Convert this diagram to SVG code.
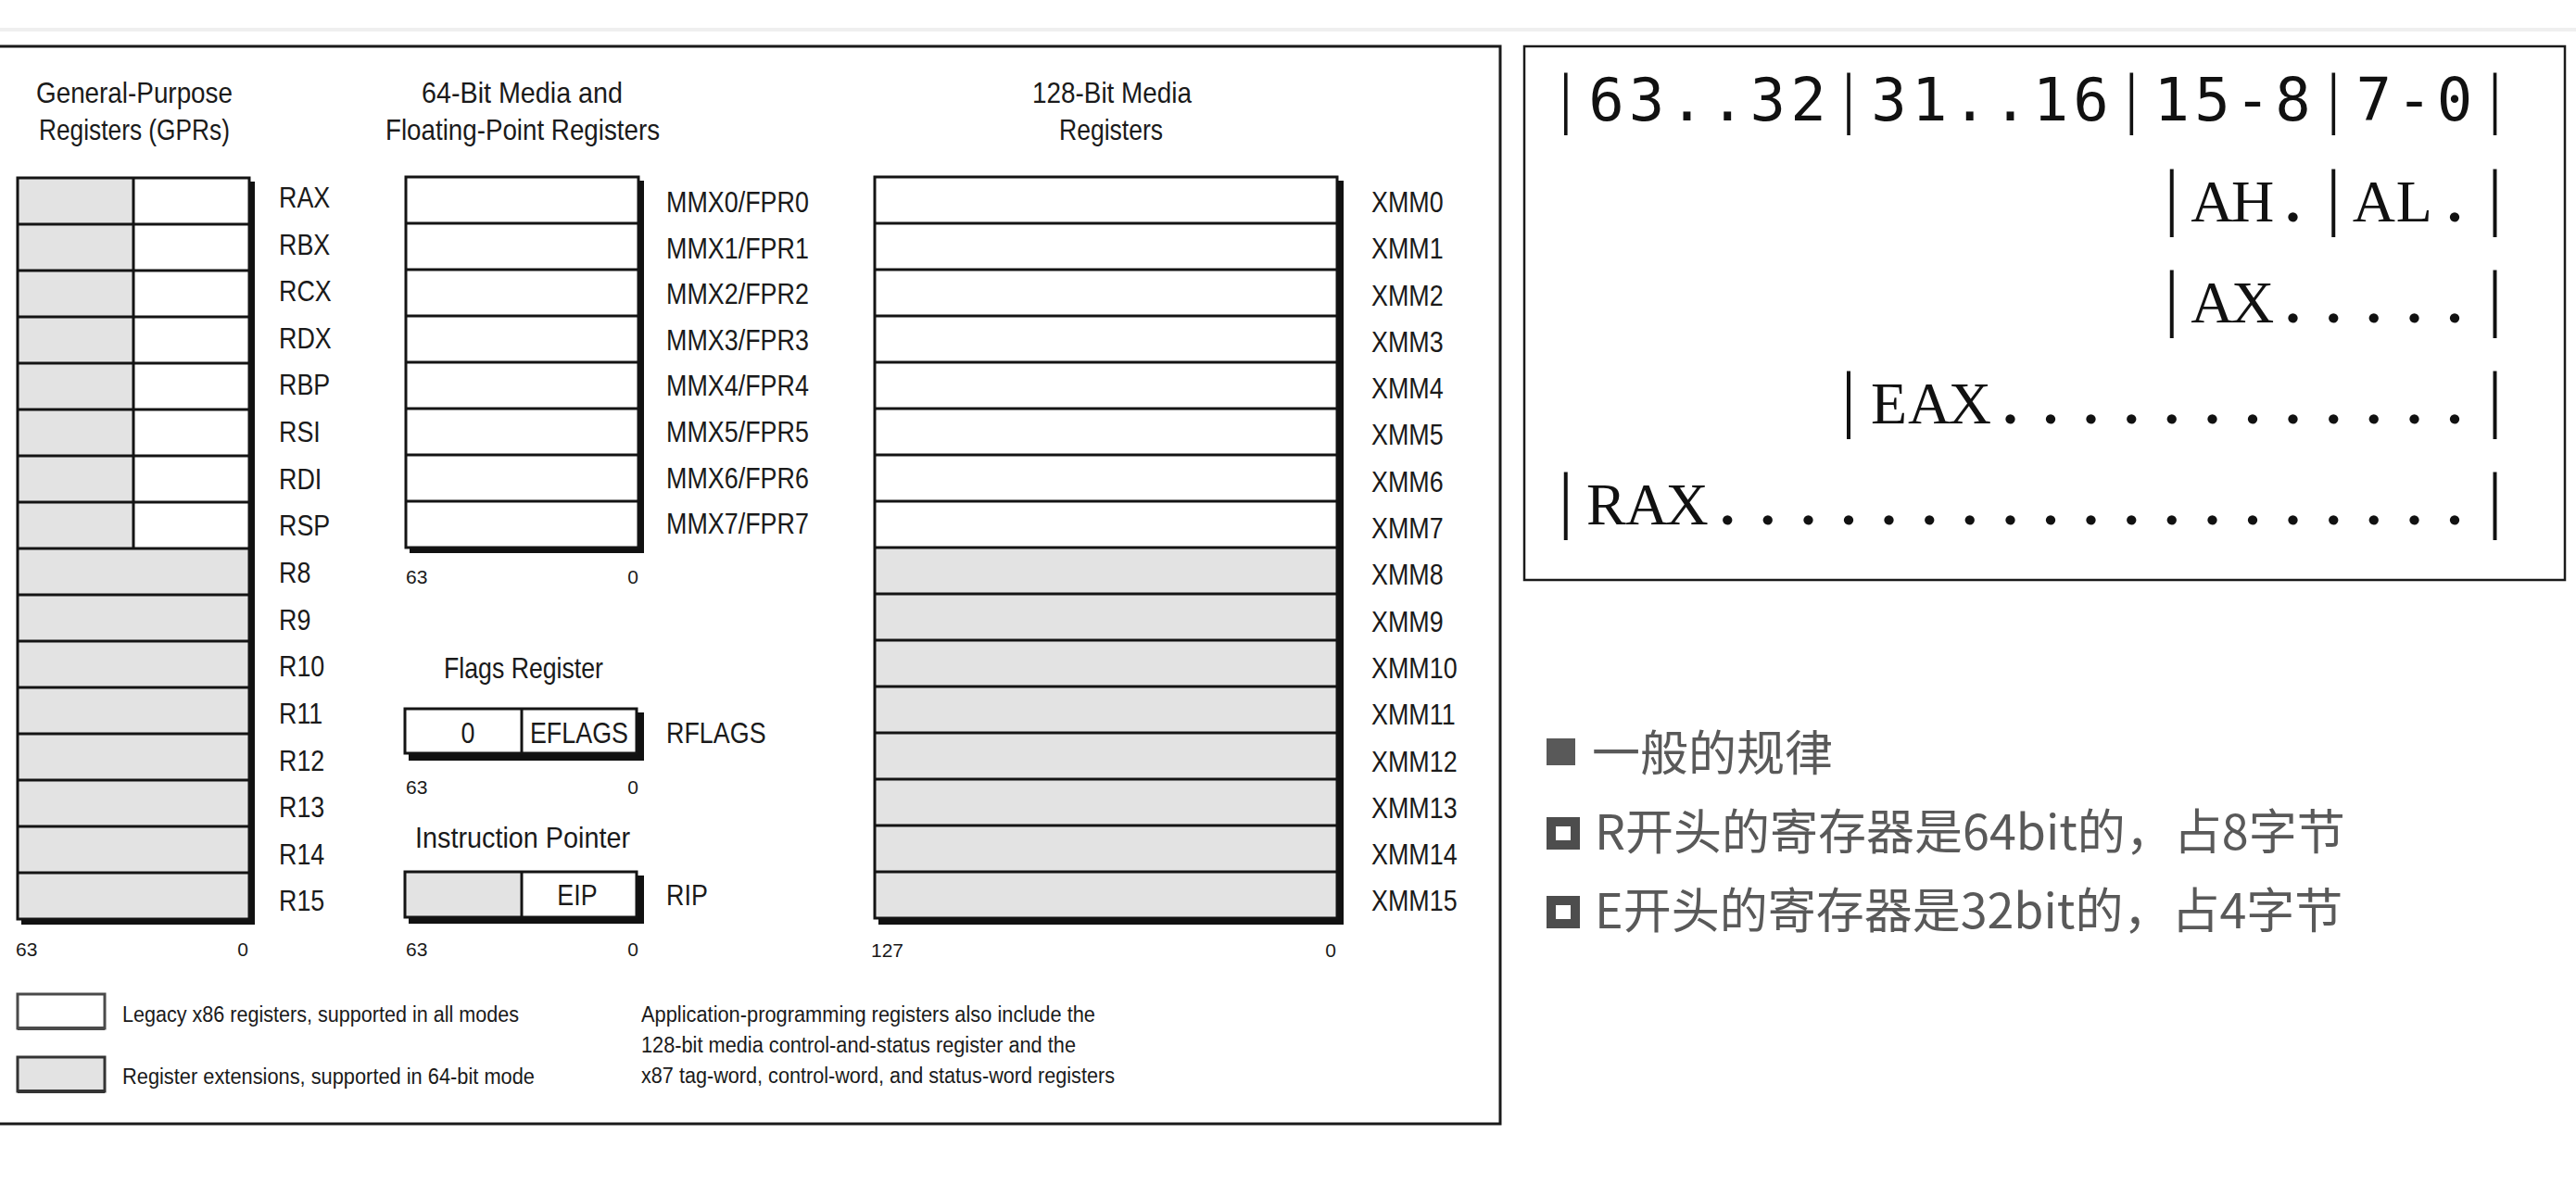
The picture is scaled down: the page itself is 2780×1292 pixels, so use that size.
<svg xmlns="http://www.w3.org/2000/svg" width="2780" height="1292" viewBox="0 0 2780 1292">
<defs>
<style>
.lbl{font-family:"Liberation Sans",Arial,sans-serif;font-size:32px;fill:#1a1a1a}
.ttl{font-family:"Liberation Sans",Arial,sans-serif;font-size:32px;fill:#1a1a1a}
.bit{font-family:"Liberation Sans",Arial,sans-serif;font-size:21px;fill:#1a1a1a}
.leg{font-family:"Liberation Sans",Arial,sans-serif;font-size:23px;fill:#1a1a1a}
.ln{stroke:#141414;stroke-width:3;fill:none}
.sh{fill:#111}
.g{fill:#e3e3e3}
.w{fill:#ffffff}
.frame{fill:none;stroke:#1a1a1a;stroke-width:3}
.ser{font-family:"Liberation Serif","Times New Roman",serif;font-size:64px;fill:#111}
.dot{font-weight:bold}
.bar{font-family:"Liberation Serif","Times New Roman",serif;font-size:80px;font-weight:normal}
.mono1{font-family:"DejaVu Sans Mono","Liberation Mono",monospace;font-size:64px;fill:#111}
.bar1{font-family:"Liberation Serif","Times New Roman",serif;font-size:73px}
.cn{font-family:"Noto Sans CJK SC","Noto Sans",sans-serif;font-size:52px;fill:#595959}
</style>
</defs>
<rect x="0" y="0" width="2780" height="1292" fill="#ffffff"/>
<line x1="0" y1="32" x2="2780" y2="32" stroke="#efefef" stroke-width="4"/>

<g id="left-panel">
<rect x="-10" y="50" width="1629" height="1163" class="frame"/>
</g>

<g id="titles">
<text class="ttl" x="39" y="111" textLength="212" lengthAdjust="spacingAndGlyphs">General-Purpose</text>
<text class="ttl" x="42" y="151" textLength="206" lengthAdjust="spacingAndGlyphs">Registers (GPRs)</text>
<text class="ttl" x="455" y="111" textLength="217" lengthAdjust="spacingAndGlyphs">64-Bit Media and</text>
<text class="ttl" x="416" y="151" textLength="296" lengthAdjust="spacingAndGlyphs">Floating-Point Registers</text>
<text class="ttl" x="1114" y="111" textLength="172" lengthAdjust="spacingAndGlyphs">128-Bit Media</text>
<text class="ttl" x="1143" y="151" textLength="112" lengthAdjust="spacingAndGlyphs">Registers</text>
</g>

<g id="gpr">
<rect class="sh" x="23" y="196" width="252" height="802"/>
<rect class="g" x="19" y="192" width="250" height="800"/>
<rect class="w" x="144" y="192" width="125" height="400"/>
<path class="ln" d="M19 242H269M19 292H269M19 342H269M19 392H269M19 442H269M19 492H269M19 542H269M19 592H269M19 642H269M19 692H269M19 742H269M19 792H269M19 842H269M19 892H269M19 942H269M144 192V592"/>
<rect class="ln" x="19" y="192" width="250" height="800"/>
<g transform="scale(0.84 1)">
<text class="lbl" x="358.3" y="224">RAX</text>
<text class="lbl" x="358.3" y="274.6">RBX</text>
<text class="lbl" x="358.3" y="325.3">RCX</text>
<text class="lbl" x="358.3" y="375.9">RDX</text>
<text class="lbl" x="358.3" y="426.5">RBP</text>
<text class="lbl" x="358.3" y="477.2">RSI</text>
<text class="lbl" x="358.3" y="527.8">RDI</text>
<text class="lbl" x="358.3" y="578.4">RSP</text>
<text class="lbl" x="358.3" y="629">R8</text>
<text class="lbl" x="358.3" y="679.7">R9</text>
<text class="lbl" x="358.3" y="730.3">R10</text>
<text class="lbl" x="358.3" y="780.9">R11</text>
<text class="lbl" x="358.3" y="831.6">R12</text>
<text class="lbl" x="358.3" y="882.2">R13</text>
<text class="lbl" x="358.3" y="932.8">R14</text>
<text class="lbl" x="358.3" y="983.5">R15</text>
</g>
<text class="bit" x="17" y="1032">63</text>
<text class="bit" x="268" y="1032" text-anchor="end">0</text>
</g>

<g id="mmx">
<rect class="sh" x="442" y="195" width="253" height="402"/>
<rect class="w" x="438" y="191" width="251" height="400"/>
<path class="ln" d="M438 241H689M438 291H689M438 341H689M438 391H689M438 441H689M438 491H689M438 541H689"/>
<rect class="ln" x="438" y="191" width="251" height="400"/>
<g transform="scale(0.84 1)">
<text class="lbl" x="856" y="229">MMX0/FPR0</text>
<text class="lbl" x="856" y="278.6">MMX1/FPR1</text>
<text class="lbl" x="856" y="328.2">MMX2/FPR2</text>
<text class="lbl" x="856" y="377.8">MMX3/FPR3</text>
<text class="lbl" x="856" y="427.4">MMX4/FPR4</text>
<text class="lbl" x="856" y="477">MMX5/FPR5</text>
<text class="lbl" x="856" y="526.6">MMX6/FPR6</text>
<text class="lbl" x="856" y="576.2">MMX7/FPR7</text>
</g>
<text class="bit" x="438" y="630">63</text>
<text class="bit" x="689" y="630" text-anchor="end">0</text>
</g>

<g id="flags">
<text class="ttl" x="479" y="732" textLength="172" lengthAdjust="spacingAndGlyphs">Flags Register</text>
<rect class="sh" x="441" y="769" width="254" height="52"/>
<rect class="w" x="437" y="765" width="250" height="48"/>
<path class="ln" d="M563 765V813"/>
<rect class="ln" x="437" y="765" width="250" height="48"/>
<g transform="scale(0.84 1)">
<text class="lbl" x="601.2" y="802" text-anchor="middle">0</text>
<text class="lbl" x="744" y="802" text-anchor="middle">EFLAGS</text>
<text class="lbl" x="856" y="802">RFLAGS</text>
</g>
<text class="bit" x="438" y="857">63</text>
<text class="bit" x="689" y="857" text-anchor="end">0</text>
</g>

<g id="rip">
<text class="ttl" x="448" y="915" textLength="232" lengthAdjust="spacingAndGlyphs">Instruction Pointer</text>
<rect class="sh" x="441" y="945" width="254" height="52"/>
<rect class="w" x="437" y="941" width="250" height="49"/>
<rect class="g" x="437" y="941" width="126" height="49"/>
<path class="ln" d="M563 941V990"/>
<rect class="ln" x="437" y="941" width="250" height="49"/>
<g transform="scale(0.84 1)">
<text class="lbl" x="741.7" y="977" text-anchor="middle">EIP</text>
<text class="lbl" x="856" y="977">RIP</text>
</g>
<text class="bit" x="438" y="1032">63</text>
<text class="bit" x="689" y="1032" text-anchor="end">0</text>
</g>

<g id="xmm">
<rect class="sh" x="948" y="195" width="502" height="803"/>
<rect class="g" x="944" y="191" width="499" height="800"/>
<rect class="w" x="944" y="191" width="499" height="400"/>
<path class="ln" d="M944 241H1443M944 291H1443M944 341H1443M944 391H1443M944 441H1443M944 491H1443M944 541H1443M944 591H1443M944 641H1443M944 691H1443M944 741H1443M944 791H1443M944 841H1443M944 891H1443M944 941H1443"/>
<rect class="ln" x="944" y="191" width="499" height="800"/>
<g transform="scale(0.84 1)">
<text class="lbl" x="1761.9" y="229">XMM0</text>
<text class="lbl" x="1761.9" y="279.3">XMM1</text>
<text class="lbl" x="1761.9" y="329.6">XMM2</text>
<text class="lbl" x="1761.9" y="379.9">XMM3</text>
<text class="lbl" x="1761.9" y="430.2">XMM4</text>
<text class="lbl" x="1761.9" y="480.5">XMM5</text>
<text class="lbl" x="1761.9" y="530.8">XMM6</text>
<text class="lbl" x="1761.9" y="581.1">XMM7</text>
<text class="lbl" x="1761.9" y="631.4">XMM8</text>
<text class="lbl" x="1761.9" y="681.7">XMM9</text>
<text class="lbl" x="1761.9" y="732">XMM10</text>
<text class="lbl" x="1761.9" y="782.3">XMM11</text>
<text class="lbl" x="1761.9" y="832.6">XMM12</text>
<text class="lbl" x="1761.9" y="882.9">XMM13</text>
<text class="lbl" x="1761.9" y="933.2">XMM14</text>
<text class="lbl" x="1761.9" y="983.5">XMM15</text>
</g>
<text class="bit" x="940" y="1033">127</text>
<text class="bit" x="1442" y="1033" text-anchor="end">0</text>
</g>

<g id="legend">
<rect x="19" y="1073" width="94" height="37" fill="#ffffff" stroke="#4a4a4a" stroke-width="3"/>
<line x1="19" y1="1110" x2="113" y2="1110" stroke="#4a4a4a" stroke-width="4"/>
<rect x="19" y="1141" width="94" height="37" fill="#e3e3e3" stroke="#333" stroke-width="3"/>
<line x1="19" y1="1178" x2="113" y2="1178" stroke="#333" stroke-width="4"/>
<text class="leg" x="132" y="1103" textLength="428" lengthAdjust="spacingAndGlyphs">Legacy x86 registers, supported in all modes</text>
<text class="leg" x="132" y="1170" textLength="445" lengthAdjust="spacingAndGlyphs">Register extensions, supported in 64-bit mode</text>
</g>

<g id="note">
<text class="leg" x="692" y="1103" textLength="490" lengthAdjust="spacingAndGlyphs">Application-programming registers also include the</text>
<text class="leg" x="692" y="1136" textLength="469" lengthAdjust="spacingAndGlyphs">128-bit media control-and-status register and the</text>
<text class="leg" x="692" y="1169" textLength="511" lengthAdjust="spacingAndGlyphs">x87 tag-word, control-word, and status-word registers</text>
</g>

<g id="ascii-box">
<rect x="1645" y="50" width="1123" height="576" fill="none" stroke="#1a1a1a" stroke-width="2.5"/>
<text class="mono1" y="130" text-anchor="middle"><tspan class="bar1" x="1689.8">|</tspan><tspan x="1733.4 1777 1820.6 1864.2 1907.8 1951.4">63..32</tspan><tspan class="bar1" x="1995">|</tspan><tspan x="2038.6 2082.2 2125.8 2169.4 2213 2256.6">31..16</tspan><tspan class="bar1" x="2300.2">|</tspan><tspan x="2343.8 2387.4 2431 2474.6">15-8</tspan><tspan class="bar1" x="2518.2">|</tspan><tspan x="2561.8 2605.4 2649">7-0</tspan><tspan class="bar1" x="2692.6">|</tspan></text>
<text class="ser" y="239" text-anchor="middle"><tspan class="bar" x="2343.8">|</tspan><tspan x="2387.4 2431">AH</tspan><tspan class="dot" x="2474.6">.</tspan><tspan class="bar" x="2518.2">|</tspan><tspan x="2561.8 2605.4">AL</tspan><tspan class="dot" x="2649">.</tspan><tspan class="bar" x="2692.6">|</tspan></text>
<text class="ser" y="348" text-anchor="middle"><tspan class="bar" x="2343.8">|</tspan><tspan x="2387.4 2431">AX</tspan><tspan class="dot" x="2474.6 2518.2 2561.8 2605.4 2649">.....</tspan><tspan class="bar" x="2692.6">|</tspan></text>
<text class="ser" y="457" text-anchor="middle"><tspan class="bar" x="1995">|</tspan><tspan x="2038.6 2082.2 2125.8">EAX</tspan><tspan class="dot" x="2169.4 2213 2256.6 2300.2 2343.8 2387.4 2431 2474.6 2518.2 2561.8 2605.4 2649">............</tspan><tspan class="bar" x="2692.6">|</tspan></text>
<text class="ser" y="566" text-anchor="middle"><tspan class="bar" x="1689.8">|</tspan><tspan x="1733.4 1777 1820.6">RAX</tspan><tspan class="dot" x="1864.2 1907.8 1951.4 1995 2038.6 2082.2 2125.8 2169.4 2213 2256.6 2300.2 2343.8 2387.4 2431 2474.6 2518.2 2561.8 2605.4 2649">...................</tspan><tspan class="bar" x="2692.6">|</tspan></text>
</g>

<g id="bullets">
<rect x="1669" y="797" width="31" height="29" fill="#595959"/>
<text class="cn" x="1718" y="832">一般的规律</text>
<rect x="1674" y="887" width="26" height="25" fill="none" stroke="#4d4d4d" stroke-width="10"/>
<text class="cn" x="1721" y="917">R开头的寄存器是64bit的，占8字节</text>
<rect x="1674" y="972" width="26" height="25" fill="none" stroke="#4d4d4d" stroke-width="10"/>
<text class="cn" x="1721" y="1002">E开头的寄存器是32bit的，占4字节</text>
</g>

<g id="connectors"/>
</svg>
